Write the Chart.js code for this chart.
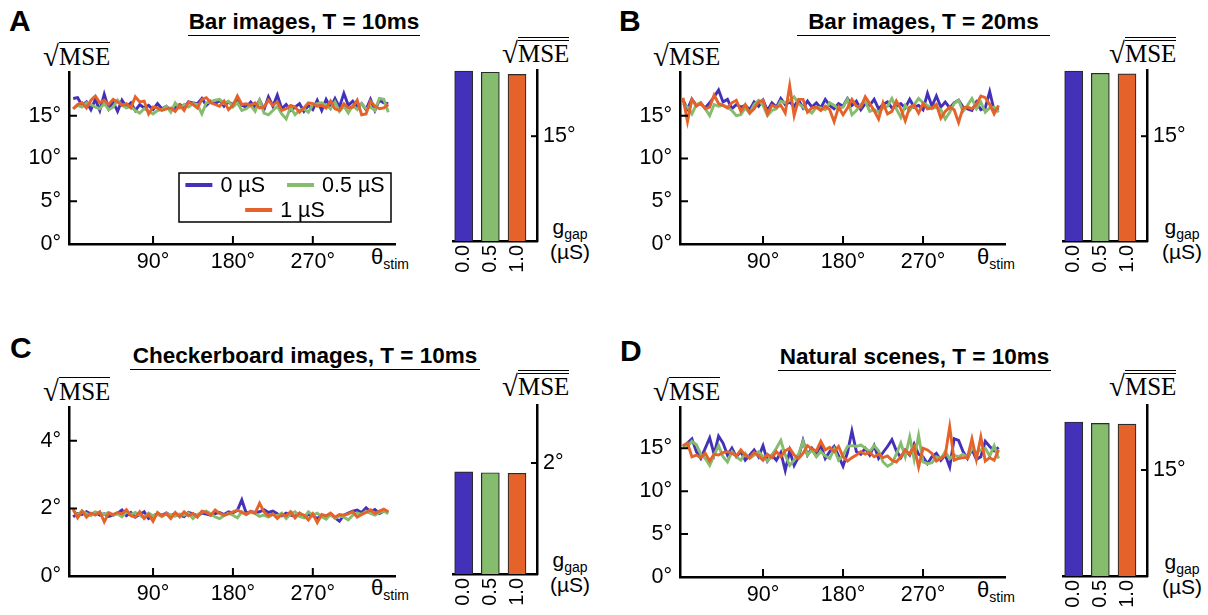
<!DOCTYPE html>
<html>
<head>
<meta charset="utf-8">
<script src="https://cdn.jsdelivr.net/npm/chart.js@4.4.1/dist/chart.umd.min.js"></script>
<style>
  body { margin:0; background:#fff; width:1208px; height:615px; position:relative; overflow:hidden;
         font-family:"Liberation Sans", Arial, sans-serif; color:#000; }
  .cv { position:absolute; }
  .letter { position:absolute; font-weight:bold; font-size:30px; line-height:30px; }
  .title { position:absolute; font-weight:bold; font-size:22.5px; line-height:24px; white-space:nowrap;
           border-bottom:1.6px solid #000; padding-bottom:1px; text-align:center; }
  .mse { position:absolute; font-family:"Liberation Serif", "Times New Roman", serif; font-size:25px;
         line-height:28px; white-space:nowrap; }
  .mse .rad { font-size:29px; position:relative; top:1px; }
  .mse .ov { display:inline-block; border-top:1.5px solid #000; line-height:24px; padding-top:2px; }
  .mse.dbl .ov { border-top:4.5px double #000; padding-top:1px; }
  .lab { position:absolute; font-size:22px; line-height:24px; white-space:nowrap; }
  .lab sub { font-size:14px; vertical-align:-5px; line-height:0; }
  .gl { position:absolute; font-size:21px; line-height:25px; width:48px; text-align:center; white-space:nowrap; }
  .gl sub { font-size:14px; vertical-align:-5px; line-height:0; }
</style>
</head>
<body>

<div class="letter" style="left:9px;top:6px">A</div>
<div class="letter" style="left:619px;top:6px">B</div>
<div class="letter" style="left:10px;top:333px">C</div>
<div class="letter" style="left:620px;top:336px">D</div>

<div class="title" style="left:188px;top:10px;width:232px">Bar images, T = 10ms</div>
<div class="title" style="left:797px;top:10px;width:253px">Bar images, T = 20ms</div>
<div class="title" style="left:130px;top:344px;width:350px">Checkerboard images, T = 10ms</div>
<div class="title" style="left:778px;top:345px;width:273px">Natural scenes, T = 10ms</div>

<div class="mse" style="left:43px;top:41px"><span class="rad">√</span><span class="ov">MSE</span></div>
<div class="mse" style="left:653px;top:41px"><span class="rad">√</span><span class="ov">MSE</span></div>
<div class="mse" style="left:43px;top:376px"><span class="rad">√</span><span class="ov">MSE</span></div>
<div class="mse" style="left:653px;top:376px"><span class="rad">√</span><span class="ov">MSE</span></div>

<div class="mse dbl" style="left:502px;top:37px"><span class="rad">√</span><span class="ov">MSE</span></div>
<div class="mse dbl" style="left:1109px;top:37px"><span class="rad">√</span><span class="ov">MSE</span></div>
<div class="mse dbl" style="left:502px;top:370px"><span class="rad">√</span><span class="ov">MSE</span></div>
<div class="mse dbl" style="left:1109px;top:370px"><span class="rad">√</span><span class="ov">MSE</span></div>

<div class="lab" style="left:371px;top:245px">θ<sub>stim</sub></div>
<div class="lab" style="left:977px;top:245px">θ<sub>stim</sub></div>
<div class="lab" style="left:371px;top:576px">θ<sub>stim</sub></div>
<div class="lab" style="left:977px;top:578px">θ<sub>stim</sub></div>

<div class="gl" style="left:546px;top:214px">g<sub>gap</sub><br>(µS)</div>
<div class="gl" style="left:1158px;top:214px">g<sub>gap</sub><br>(µS)</div>
<div class="gl" style="left:546px;top:547px">g<sub>gap</sub><br>(µS)</div>
<div class="gl" style="left:1158px;top:549px">g<sub>gap</sub><br>(µS)</div>

<script>
// ---- stimulus orientation (degrees) ----
const thetaDeg = [0,5,10,15,20,25,30,35,40,45,50,55,
  60,65,70,75,80,85,90,95,100,105,110,115,
  120,125,130,135,140,145,150,155,160,165,170,175,
  180,185,190,195,200,205,210,215,220,225,230,235,
  240,245,250,255,260,265,270,275,280,285,290,295,
  300,305,310,315,320,325,330,335,340,345,350,355];
const thetaTicks = [90, 180, 270];

// ---- gap-junction conductances ----
const gapLabels = ['0.0', '0.5', '1.0'];
const seriesLabels = ['0 µS', '0.5 µS', '1 µS'];

// ---- A: bar images, T = 10ms ----
const aBlue = [17.0,17.1,16.2,16.6,15.7,16.9,15.6,17.5,15.8,16.6,15.5,16.8,
  16.0,16.5,15.6,16.3,15.9,16.2,15.7,16.4,15.8,16.1,15.6,15.9,
  16.3,16.0,16.6,16.5,16.4,17.0,16.2,16.7,16.4,16.8,16.1,16.6,
  16.3,16.9,16.2,16.0,16.6,15.9,16.8,15.7,17.2,16.1,17.4,15.8,
  16.3,15.6,16.0,16.4,15.5,16.2,15.7,16.8,15.6,16.9,15.9,17.0,
  16.0,17.6,16.2,16.7,16.0,16.4,15.7,16.9,15.6,16.8,16.5,16.4];
const aGreen = [15.8,16.2,16.0,16.5,16.3,16.0,15.8,16.4,15.7,16.0,16.8,16.2,
  15.9,16.1,15.6,15.3,15.8,15.5,15.2,15.6,15.7,16.1,15.4,16.5,
  15.9,16.3,16.0,16.4,16.3,15.2,16.5,16.6,16.8,16.9,16.4,16.7,
  16.0,16.5,15.6,15.8,16.2,15.5,16.8,15.3,15.1,15.6,16.1,15.2,
  14.6,16.0,15.1,15.6,15.8,15.4,16.3,16.4,16.5,16.2,15.8,16.6,
  15.5,16.1,15.3,16.2,15.7,16.4,15.8,16.0,15.6,17.0,16.9,15.4];
const aOrange = [15.8,16.3,16.5,15.9,16.8,17.3,16.5,16.8,16.3,16.9,16.6,16.2,
  16.4,15.9,17.2,16.6,16.7,15.2,16.0,15.9,15.6,15.8,15.9,15.5,
  16.2,15.6,16.6,16.3,15.9,16.9,17.1,16.5,16.3,16.1,16.7,15.7,
  16.2,17.3,16.3,16.4,16.2,16.5,15.9,16.0,16.8,16.2,16.6,15.6,
  15.8,16.2,16.0,15.4,15.9,16.5,16.4,16.1,16.2,15.9,16.7,15.8,
  15.6,16.4,15.9,16.0,16.8,15.1,15.2,16.7,16.1,15.8,15.9,16.3];
const aBars = [16.18, 16.16, 16.12];

// ---- B: bar images, T = 20ms ----
const bBlue = [16.8,15.8,16.9,16.2,16.4,15.9,16.5,17.2,18.0,16.6,16.9,15.8,
  16.3,16.0,16.2,15.7,16.6,16.1,16.8,15.6,16.5,16.0,17.0,16.3,
  16.6,16.1,16.8,15.9,16.7,16.0,16.5,15.9,16.9,16.2,15.8,16.4,
  16.1,17.0,16.2,16.7,15.7,16.4,16.2,16.9,15.8,16.3,16.6,15.9,
  16.1,16.4,15.9,16.9,16.0,16.2,15.7,17.6,16.1,17.3,16.0,16.6,
  15.9,16.5,16.8,16.0,15.8,15.6,16.6,15.7,15.9,17.8,15.6,15.9];
const bGreen = [16.4,16.0,15.2,16.3,16.5,15.8,15.0,16.3,16.1,16.2,16.0,15.6,
  15.0,15.1,15.9,15.3,16.3,16.8,16.2,15.0,15.6,15.8,16.7,16.5,
  16.8,17.2,16.4,16.0,15.6,15.3,16.0,15.9,15.7,16.5,16.2,15.8,
  16.0,16.9,15.1,15.6,16.3,16.7,15.5,15.7,15.4,15.9,16.1,17.0,
  15.8,14.8,16.2,15.6,16.3,17.0,16.5,16.2,15.8,16.0,15.7,14.6,
  15.4,16.4,16.8,15.5,16.2,17.0,15.8,16.6,15.4,15.9,16.0,15.4];
const bOrange = [17.1,14.3,16.9,16.1,16.5,15.8,16.0,17.4,16.4,16.2,15.9,16.5,
  16.8,15.5,16.3,15.3,15.8,16.6,16.8,15.2,16.2,16.0,16.2,15.3,
  18.5,15.0,16.9,16.9,15.4,15.9,16.0,15.6,16.1,15.7,14.3,16.0,
  15.1,15.9,16.9,16.1,16.0,17.2,16.4,15.6,14.6,16.5,15.2,15.5,
  16.7,15.8,14.4,16.0,16.2,15.3,16.4,15.8,15.9,16.3,14.7,15.5,
  16.0,15.7,14.2,15.9,16.0,15.8,16.3,17.3,17.1,16.3,15.2,16.2];
const bBars = [16.18, 16.14, 16.13];

// ---- C: checkerboard images, T = 10ms ----
const cBlue = [1.75,1.85,1.82,1.90,1.83,1.88,1.80,1.84,1.76,1.80,1.86,1.95,
  1.78,1.88,1.74,1.82,1.90,1.70,1.78,1.84,1.80,1.87,1.79,1.85,
  1.80,1.76,1.88,1.84,1.78,1.86,1.83,1.80,1.85,1.88,1.82,1.90,
  1.87,1.94,2.25,1.86,1.90,1.88,1.90,1.96,1.88,1.92,1.84,1.78,
  1.86,1.80,1.76,1.86,1.74,1.82,1.78,1.70,1.80,1.77,1.82,1.72,
  1.62,1.80,1.86,1.92,1.95,1.88,2.02,1.90,1.97,1.85,1.92,1.88];
const cGreen = [1.95,1.80,1.92,1.85,1.78,1.90,1.86,1.82,1.88,1.80,1.84,1.75,
  1.90,1.82,1.88,1.80,1.72,1.86,1.78,1.82,1.75,1.85,1.80,1.77,
  1.83,1.80,1.86,1.70,1.82,1.88,1.92,1.84,1.75,1.70,1.78,1.86,
  1.80,1.72,1.90,1.82,1.88,1.85,1.76,1.80,1.74,1.82,1.78,1.86,
  1.70,1.84,1.90,1.76,1.72,1.90,1.80,1.86,1.75,1.68,1.82,1.70,
  1.78,1.74,1.66,1.80,1.86,1.82,1.92,1.85,1.80,1.88,1.92,1.84];
const cOrange = [1.98,1.72,1.92,1.74,1.86,1.80,1.90,1.60,1.86,1.82,1.88,1.84,
  1.96,1.78,1.74,1.90,1.70,1.82,1.62,1.88,1.78,1.84,1.70,1.88,
  1.75,1.90,1.78,1.85,1.74,1.92,1.88,1.80,1.95,1.85,1.80,1.84,
  1.90,1.95,1.88,1.82,1.92,1.86,2.15,1.90,1.78,1.84,1.70,1.82,
  1.78,1.90,1.72,1.86,1.80,1.66,1.84,1.58,1.82,1.78,1.86,1.74,
  1.82,1.80,1.84,1.90,1.74,1.82,1.88,1.96,1.85,1.92,1.98,1.90];
const cBars = [1.84, 1.825, 1.814];

// ---- D: natural scenes, T = 10ms ----
const dBlue = [15.2,15.6,16.1,14.6,13.8,15.0,16.2,14.3,16.4,15.6,14.2,15.0,
  14.0,14.6,13.6,14.2,14.8,14.0,15.3,13.5,14.2,13.6,14.5,12.4,
  14.7,13.0,14.0,15.9,14.2,15.0,14.4,15.3,13.8,14.6,15.2,14.1,
  12.9,14.5,17.0,14.6,14.3,15.0,14.2,15.3,13.8,14.5,15.2,16.0,
  14.7,13.9,14.8,14.2,15.5,14.3,14.0,13.2,14.0,14.4,13.6,14.2,
  12.8,16.1,15.9,14.6,13.8,14.9,13.7,14.0,15.8,15.2,14.7,15.1];
const dGreen = [15.4,15.2,15.8,15.4,14.3,13.8,13.0,14.2,15.3,14.0,13.4,14.6,
  14.0,13.6,14.4,13.8,14.2,14.6,14.0,13.5,14.2,15.0,15.9,14.2,
  13.0,13.6,14.3,15.8,14.2,14.8,14.0,14.6,14.1,13.8,14.9,13.6,
  14.2,15.2,15.3,15.2,15.4,15.0,14.6,15.3,14.7,13.4,12.9,13.2,
  14.3,15.6,14.0,16.3,13.7,16.5,13.4,13.2,13.3,14.0,13.8,14.6,
  13.8,14.2,14.0,14.3,13.9,15.0,14.5,14.8,15.0,14.1,15.3,13.8];
const dOrange = [15.3,15.6,14.0,14.2,13.9,14.4,13.5,14.3,14.2,14.5,14.6,14.4,
  14.1,14.8,14.2,13.9,14.5,14.1,13.6,14.3,13.9,14.6,14.0,14.7,
  15.0,14.2,13.8,14.4,15.3,14.9,14.7,15.8,14.8,15.1,14.6,15.2,
  14.0,13.5,13.9,14.2,14.6,14.3,14.5,14.0,14.3,13.9,14.1,13.6,
  13.4,14.0,14.8,14.3,15.2,12.8,15.0,14.8,14.4,13.5,13.8,14.2,
  17.5,13.6,13.8,13.9,13.9,16.1,13.7,16.3,13.5,13.9,13.6,14.8];
const dBars = [15.68, 15.66, 15.65];

// ---- styling ----
const COLORS = ['#4431b9', '#86bc6e', '#e5622b'];
const FONT = '"Liberation Sans", Arial, sans-serif';
Chart.defaults.font.family = FONT;
Chart.defaults.color = '#000';

// short tick marks pointing into the plotting area
const innerTicks = {
  id: 'innerTicks',
  afterDraw(chart, args, opts) {
    const { ctx, chartArea: a, scales } = chart;
    const len = opts.len || 8;
    ctx.save();
    ctx.strokeStyle = '#000';
    ctx.lineWidth = opts.width || 2;
    ctx.beginPath();
    (opts.x || []).forEach(v => {
      const px = scales.x.getPixelForValue(v);
      ctx.moveTo(px, a.bottom); ctx.lineTo(px, a.bottom - len);
    });
    (opts.y || []).forEach(v => {
      const py = scales.y.getPixelForValue(v);
      if (scales.y.position === 'right') { ctx.moveTo(a.right, py); ctx.lineTo(a.right - len, py); }
      else { ctx.moveTo(a.left, py); ctx.lineTo(a.left + len, py); }
    });
    ctx.stroke();
    ctx.restore();
  }
};

// framed legend with line samples, rows centred in the frame
const boxLegend = {
  id: 'boxLegend',
  afterDraw(chart, args, o) {
    if (!o || !o.rows) return;
    const ctx = chart.ctx;
    const ds = chart.data.datasets;
    ctx.save();
    ctx.font = o.fontSize + 'px ' + FONT;
    ctx.textBaseline = 'middle';
    ctx.fillStyle = '#fff';
    ctx.fillRect(o.x, o.y, o.w, o.h);
    ctx.strokeStyle = '#000';
    ctx.lineWidth = 1.5;
    ctx.strokeRect(o.x, o.y, o.w, o.h);
    o.rows.forEach((row, r) => {
      const widths = row.map(i => o.sample + o.gap + ctx.measureText(ds[i].label).width);
      const total = widths.reduce((s, w) => s + w, 0) + o.itemGap * (row.length - 1);
      let x = o.x + (o.w - total) / 2;
      const y = o.y + o.rowTop + r * o.rowH;
      row.forEach((i, k) => {
        ctx.strokeStyle = ds[i].borderColor;
        ctx.lineWidth = 4;
        ctx.beginPath(); ctx.moveTo(x, y); ctx.lineTo(x + o.sample, y); ctx.stroke();
        ctx.fillStyle = '#000';
        ctx.fillText(ds[i].label, x + o.sample + o.gap, y + 1);
        x += widths[k] + o.itemGap;
      });
    });
    ctx.restore();
  }
};
Chart.register(innerTicks, boxLegend);

function makeCanvas(box) {
  const c = document.createElement('canvas');
  c.className = 'cv';
  c.width = box.w; c.height = box.h;
  c.style.left = box.left + 'px'; c.style.top = box.top + 'px';
  c.style.width = box.w + 'px'; c.style.height = box.h + 'px';
  document.body.appendChild(c);
  return c;
}

const axisBorder = { display: true, color: '#000', width: 2.5 };

function lineChart(box, area, cfg) {
  const canvas = makeCanvas(box);
  const datasets = cfg.series.map((vals, i) => ({
    label: seriesLabels[i],
    data: thetaDeg.map((t, k) => ({ x: t, y: vals[k] })),
    borderColor: COLORS[i],
    borderWidth: 2.9,
    pointRadius: 0,
    tension: 0,
    fill: false,
    order: 2 - i
  }));
  return new Chart(canvas, {
    type: 'line',
    data: { datasets },
    options: {
      responsive: false, animation: false, devicePixelRatio: 1,
      layout: { padding: { top: area.t - box.top, right: box.left + box.w - area.r, left: 0, bottom: 0 } },
      plugins: {
        legend: { display: false }, tooltip: { enabled: false },
        innerTicks: { x: thetaTicks, y: cfg.yMarks, len: 8, width: 2 },
        boxLegend: cfg.legend || {}
      },
      scales: {
        x: {
          type: 'linear', min: cfg.xMin, max: cfg.xMax, offset: false,
          grid: { display: false, drawTicks: false }, border: axisBorder,
          ticks: { autoSkip: false, maxRotation: 0, padding: 5, font: { size: 21.5 }, callback: v => v + '°' },
          afterBuildTicks: s => { s.ticks = thetaTicks.map(v => ({ value: v })); },
          afterFit: s => { s.height = box.top + box.h - area.b; s.paddingLeft = 0; s.paddingRight = 0; }
        },
        y: {
          min: cfg.yMin, max: cfg.yMax,
          grid: { display: false, drawTicks: false }, border: axisBorder,
          ticks: { autoSkip: false, padding: 8, font: { size: 21.5 }, callback: v => v + '°' },
          afterBuildTicks: s => { s.ticks = cfg.yLabels.map(v => ({ value: v })); },
          afterFit: s => { s.width = area.l - box.left; s.paddingTop = 0; s.paddingBottom = 0; }
        }
      }
    }
  });
}

function barChart(box, area, cfg) {
  const canvas = makeCanvas(box);
  return new Chart(canvas, {
    type: 'bar',
    data: {
      datasets: [{
        data: cfg.values.map((v, i) => ({ x: i, y: v })),
        backgroundColor: COLORS,
        borderColor: '#2a2a2a',
        borderWidth: 1.2,
        borderSkipped: 'start',
        barThickness: 18,
        base: cfg.yMin
      }]
    },
    options: {
      responsive: false, animation: false, devicePixelRatio: 1,
      layout: { padding: { top: area.t - box.top, left: area.l - box.left, right: 0, bottom: 0 } },
      plugins: {
        legend: { display: false }, tooltip: { enabled: false },
        innerTicks: { y: [cfg.yMark], len: 6, width: 2 }
      },
      scales: {
        x: {
          type: 'linear', min: -0.4, max: 2.75, offset: false,
          grid: { display: false, drawTicks: false }, border: axisBorder,
          ticks: { autoSkip: false, minRotation: 90, maxRotation: 90, padding: 4, font: { size: 20 },
                   callback: v => gapLabels[v] },
          afterBuildTicks: s => { s.ticks = gapLabels.map((g, i) => ({ value: i })); },
          afterFit: s => { s.height = box.top + box.h - area.b; s.paddingLeft = 0; s.paddingRight = 0; }
        },
        y: {
          position: 'right', min: cfg.yMin, max: cfg.yMax,
          grid: { display: false, drawTicks: false }, border: axisBorder,
          ticks: { autoSkip: false, padding: 6, font: { size: 21.5 }, callback: v => v + '°' },
          afterBuildTicks: s => { s.ticks = [{ value: cfg.yMark }]; },
          afterFit: s => { s.width = box.left + box.w - area.r; s.paddingTop = 0; s.paddingBottom = 0; }
        }
      }
    }
  });
}

// A
lineChart({ left: 0, top: 60, w: 400, h: 215 }, { l: 69, t: 72, r: 395, b: 244 }, {
  series: [aBlue, aGreen, aOrange], xMin: -4.7, xMax: 362.6, yMin: 0, yMax: 20.1,
  yLabels: [0, 5, 10, 15], yMarks: [5, 10, 15],
  legend: { x: 179, y: 113, w: 212, h: 49, rows: [[0, 1], [2]], rowTop: 12, rowH: 25,
            sample: 27, gap: 8, itemGap: 22, fontSize: 21.5 }
});
barChart({ left: 420, top: 55, w: 190, h: 225 }, { l: 453, t: 70, r: 537, b: 241 },
  { values: aBars, yMin: 13.1, yMax: 16.2, yMark: 15 });

// B
lineChart({ left: 600, top: 60, w: 410, h: 215 }, { l: 680, t: 72, r: 1005, b: 244 }, {
  series: [bBlue, bGreen, bOrange], xMin: -3.4, xMax: 362.2, yMin: 0, yMax: 20.1,
  yLabels: [0, 5, 10, 15], yMarks: [5, 10, 15]
});
barChart({ left: 1030, top: 55, w: 178, h: 225 }, { l: 1063, t: 70, r: 1147, b: 241 },
  { values: bBars, yMin: 13.1, yMax: 16.2, yMark: 15 });

// C
lineChart({ left: 0, top: 395, w: 400, h: 215 }, { l: 69, t: 407, r: 395, b: 576 }, {
  series: [cBlue, cGreen, cOrange], xMin: -4.7, xMax: 362.6, yMin: 0, yMax: 5.0,
  yLabels: [0, 2, 4], yMarks: [2, 4]
});
barChart({ left: 420, top: 390, w: 190, h: 225 }, { l: 453, t: 405, r: 537, b: 574 },
  { values: cBars, yMin: 0, yMax: 3.045, yMark: 2 });

// D
lineChart({ left: 600, top: 395, w: 410, h: 215 }, { l: 680, t: 407, r: 1005, b: 577 }, {
  series: [dBlue, dGreen, dOrange], xMin: -3.4, xMax: 362.2, yMin: 0, yMax: 19.8,
  yLabels: [0, 5, 10, 15], yMarks: [5, 10, 15]
});
barChart({ left: 1030, top: 390, w: 178, h: 225 }, { l: 1063, t: 405, r: 1147, b: 576 },
  { values: dBars, yMin: 13.5, yMax: 15.92, yMark: 15 });
</script>
</body>
</html>
